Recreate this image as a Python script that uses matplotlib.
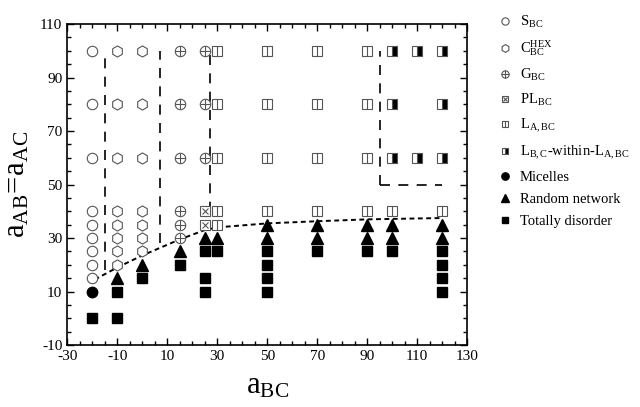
import matplotlib
matplotlib.use("Agg")
import matplotlib.pyplot as plt
from matplotlib.ticker import MultipleLocator
from matplotlib.legend_handler import HandlerTuple

plt.rcParams["font.family"] = ["Liberation Serif", "DejaVu Serif"]
plt.rcParams["mathtext.fontset"] = "stix"
plt.rcParams["axes.unicode_minus"] = False

# phase points (a_BC, a_AB = a_AC)
s_x = [-20] * 9
s_y = [15, 20, 25, 30, 35, 40, 60, 80, 100]

hex_x = [-10] * 8 + [0] * 7
hex_y = [20, 25, 30, 35, 40, 60, 80, 100, 25, 30, 35, 40, 60, 80, 100]

g_x = [15] * 6 + [25] * 3
g_y = [30, 35, 40, 60, 80, 100, 60, 80, 100]

pl_x = [25, 25]
pl_y = [35, 40]

lam_x = [30] * 5 + [50] * 4 + [70] * 4 + [90] * 4 + [100, 120]
lam_y = [35, 40, 60, 80, 100] + [40, 60, 80, 100] * 3 + [40, 40]

half_x = [100, 100, 100, 110, 110, 120, 120, 120]
half_y = [60, 80, 100, 60, 100, 60, 80, 100]

mic_x = [-20]
mic_y = [10]

net_x = [-10, 0, 15, 25, 30, 50, 50, 70, 70, 90, 90, 100, 100, 120, 120]
net_y = [15, 20, 25, 30, 30, 30, 35, 30, 35, 30, 35, 30, 35, 30, 35]

dis_x = [-20, -10, -10, 0, 15, 25, 25, 25, 30, 50, 50, 50, 50, 70, 90, 100,
         120, 120, 120, 120]
dis_y = [0, 0, 10, 15, 20, 10, 15, 25, 25, 10, 15, 20, 25, 25, 25, 25,
         10, 15, 20, 25]

# dashed phase borders
vline_x = [-15, 7, 27, 95]
vline_lo = [18, 28, 33, 50]
vline_hi = [100, 100, 100, 100]
hline_y = 50
hline_x = [95, 120]

# dotted order-disorder boundary
bnd_x = [-19, -10, 0, 15, 25, 30, 50, 70, 90, 120]
bnd_y = [14.5, 19, 23.5, 29.5, 33, 34, 35.5, 36.3, 37, 37.5]

gray = "#555555"
fig = plt.figure(figsize=(6.4, 4.07), dpi=100)
ax = fig.add_axes([0.105, 0.152, 0.625, 0.789])

for x, lo, hi in zip(vline_x, vline_lo, vline_hi):
    ax.plot([x, x], [lo, hi], color="black", lw=1.2, dashes=(6, 5))
ax.plot(hline_x, [hline_y, hline_y], color="black", lw=1.2, dashes=(6, 5))
ax.plot(bnd_x, bnd_y, color="black", lw=1.4, dashes=(2.5, 1.8))

ms = 7.5
open_kw = dict(ls="none", mfc="white", mec=gray, mew=0.8, ms=ms)
h_s, = ax.plot(s_x, s_y, marker="o", **open_kw)
h_c, = ax.plot(hex_x, hex_y, marker="h", **dict(open_kw, ms=ms + 0.5))
h_g1, = ax.plot(g_x, g_y, marker="o", **open_kw)
h_g2, = ax.plot(g_x, g_y, ls="none", marker="+", color=gray, mew=0.8, ms=ms)
h_p1, = ax.plot(pl_x, pl_y, marker="s", **dict(open_kw, ms=ms - 1))
h_p2, = ax.plot(pl_x, pl_y, ls="none", marker="x", color=gray, mew=0.8, ms=ms - 2.5)
h_l1, = ax.plot(lam_x, lam_y, marker="s", **dict(open_kw, ms=ms - 1))
h_l2, = ax.plot(lam_x, lam_y, ls="none", marker="|", color=gray, mew=0.8, ms=ms - 1)
h_h, = ax.plot(half_x, half_y, ls="none", marker="s", ms=ms - 1, mec=gray, mew=0.8,
               fillstyle="right", mfc="black", mfcalt="white")
h_m, = ax.plot(mic_x, mic_y, ls="none", marker="o", color="black", ms=ms)
h_n, = ax.plot(net_x, net_y, ls="none", marker="^", color="black", ms=ms + 1)
h_d, = ax.plot(dis_x, dis_y, ls="none", marker="s", color="black", ms=ms - 1)

ax.set_xlim(-30, 130)
ax.set_ylim(-10, 110)
ax.xaxis.set_minor_locator(MultipleLocator(5))
ax.yaxis.set_minor_locator(MultipleLocator(5))
ax.tick_params(which="both", direction="in", top=True, right=True, labelsize=11)
ax.tick_params(which="major", length=5, width=1)
ax.tick_params(which="minor", length=3, width=1)
ax.set_xticks(range(-30, 131, 20))
ax.set_yticks(range(-10, 111, 20))
for sp in ax.spines.values():
    sp.set_linewidth(1.2)

ax.set_xlabel(r"$\mathregular{a_{BC}}$", fontsize=22, labelpad=6)
ax.set_ylabel(r"$\mathregular{a_{AB}\!=\!a_{AC}}$", fontsize=22, labelpad=6)

handles = [h_s, h_c, (h_g1, h_g2), (h_p1, h_p2), (h_l1, h_l2), h_h, h_m, h_n, h_d]
labels = [r"$\mathregular{S_{BC}}$", r"$\mathregular{C_{BC}^{HEX}}$",
          r"$\mathregular{G_{BC}}$", r"$\mathregular{PL_{BC}}$",
          r"$\mathregular{L_{A,BC}}$",
          r"$\mathregular{L_{B,C}}$-within-$\mathregular{L_{A,BC}}$",
          "Micelles", "Random network", "Totally disorder"]
fig.legend(handles, labels, loc="upper left", bbox_to_anchor=(0.76, 0.995),
           frameon=False, fontsize=10.5, markerscale=0.7, handlelength=0.9,
           handletextpad=0.6, labelspacing=0.6, borderpad=0.3,
           handler_map={tuple: HandlerTuple(ndivide=1, pad=0)})

fig.savefig("out.png", dpi=100)
